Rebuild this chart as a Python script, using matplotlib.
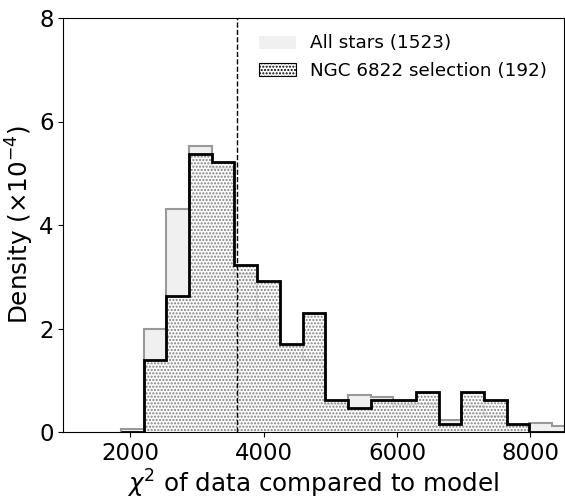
import numpy as np
import matplotlib
matplotlib.use('Agg')
import matplotlib.pyplot as plt
from matplotlib.patches import Patch

# bin edges of the chi^2 histograms
bin_edges = [1865, 2205, 2545, 2885, 3225, 3565, 3905, 4245, 4585, 4925, 5265,
             5605, 5945, 6285, 6625, 6965, 7305, 7645, 7985, 8325, 8665]

# density in units of 1e-4
all_stars = [0.06, 2.00, 4.30, 5.53, 5.11, 3.05, 2.19, 1.66, 1.39, 0.55,
             0.71, 0.68, 0.52, 0.55, 0.24, 0.50, 0.30, 0.12, 0.17, 0.12]
ngc_sel = [0.0, 1.39, 2.62, 5.37, 5.21, 3.23, 2.92, 1.70, 2.30, 0.62,
           0.47, 0.62, 0.62, 0.77, 0.16, 0.77, 0.62, 0.16, 0.0, 0.0]

chi2_cut = 3600
labels = ['All stars (1523)', 'NGC 6822 selection (192)']

plt.rcParams['font.size'] = 16.5
plt.rcParams['axes.labelsize'] = 17.7
plt.rcParams['hatch.linewidth'] = 1.0

fig, ax = plt.subplots(figsize=(5.65, 5.0), dpi=100)
fig.subplots_adjust(left=0.112, right=0.998, bottom=0.136, top=0.964)

# all stars: light fill + grey outline
ax.stairs(all_stars, bin_edges, fill=True, color='#f0f0f0', lw=0)
ax.stairs(all_stars, bin_edges, color='#999999', lw=1.5)

# selection: semi-opaque face, dotted hatch, then black outline
ax.stairs(ngc_sel, bin_edges, fill=True, color=(1, 1, 1, 0.75), lw=0)
ax.stairs(ngc_sel, bin_edges, fill=True, facecolor='none', edgecolor='#808080',
          hatch='.....', lw=0)
ax.stairs(ngc_sel, bin_edges, color='k', lw=2)

ax.axvline(chi2_cut, color='k', ls='--', lw=1)

ax.set_xlim(1000, 8500)
ax.set_ylim(0, 8)
ax.set_xticks([2000, 4000, 6000, 8000])
ax.set_yticks([0, 2, 4, 6, 8])
ax.set_xlabel(r'$\chi^2$ of data compared to model', labelpad=2)
ax.set_ylabel(r'Density ($\times10^{-4}$)', labelpad=2)

handles = [Patch(facecolor='#f0f0f0', edgecolor='none'),
           Patch(facecolor='white', edgecolor='k', hatch='.....', lw=0.8)]
ax.legend(handles, labels, loc='upper right', frameon=False, fontsize=13.2)

fig.savefig('out.png', dpi=100)
